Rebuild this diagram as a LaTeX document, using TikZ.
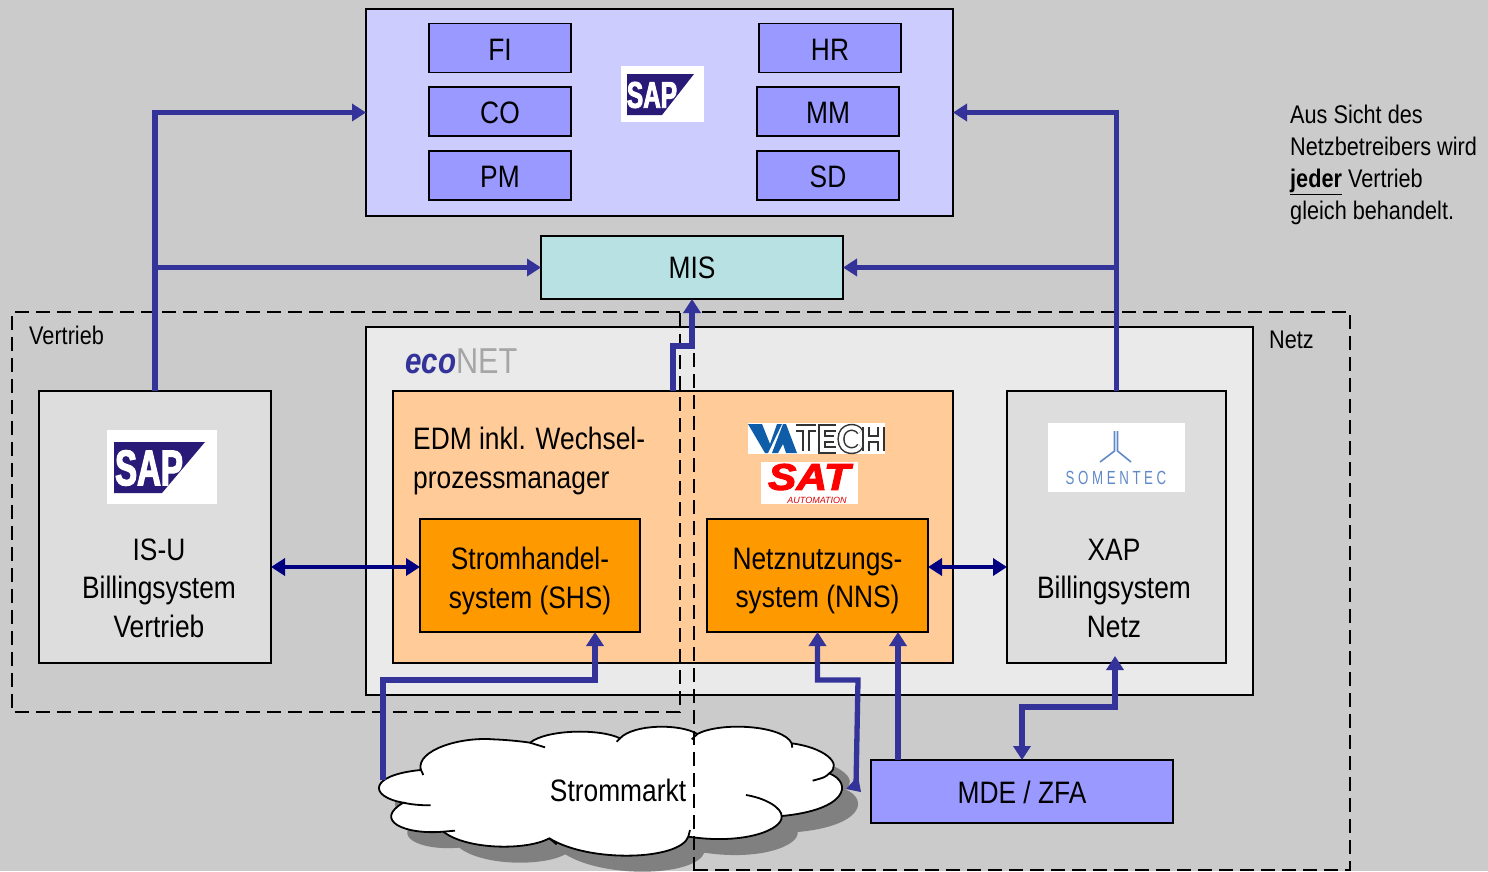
\documentclass[tikz,border=0pt]{standalone}
\usepackage{fontspec}
\usetikzlibrary{arrows.meta,calc}
\setmainfont[FakeStretch=0.85]{Liberation Sans}
\newfontfamily\sapfont[FakeStretch=0.66,BoldFeatures={FakeBold=2.5}]{Liberation Sans}
\newfontfamily\satfont[FakeStretch=1.15,BoldItalicFeatures={FakeBold=3}]{Liberation Sans}
\newfontfamily\autofont{Liberation Sans}
\newfontfamily\somfont[LetterSpace=19,FakeStretch=0.7]{Liberation Sans}
\newfontfamily\ecofont[FakeStretch=0.82]{Liberation Sans}
\definecolor{bgc}{HTML}{CBCBCB}
\definecolor{topc}{HTML}{CCCCFF}
\definecolor{modc}{HTML}{9999FF}
\definecolor{misc}{HTML}{B8E1E4}
\definecolor{ecoc}{HTML}{EAEAEA}
\definecolor{grayc}{HTML}{DDDDDD}
\definecolor{lorange}{HTML}{FFCC99}
\definecolor{dorange}{HTML}{FF9900}
\definecolor{arrc}{HTML}{333399}
\definecolor{navyc}{HTML}{000080}
\definecolor{sapc}{HTML}{2A1A78}
\definecolor{vablue}{HTML}{0F5CA8}
\definecolor{somc}{HTML}{5F8AC6}
\definecolor{shadc}{HTML}{808080}
\newcommand{\bigfs}{\fontsize{31}{38.5}\selectfont}
\newcommand{\smallfs}{\fontsize{25.5}{32}\selectfont}
\tikzset{
  box/.style={draw=black,line width=1.3pt,inner sep=0pt,outer sep=0pt,align=center,font=\bigfs},
  lowtext/.style={text height=25pt,text depth=0.8pt},
  modbox/.style={box,lowtext,fill=modc,minimum width=142pt,minimum height=49pt},
  bigtext/.style={inner sep=0pt,font=\bigfs,align=center},
  smalltext/.style={inner sep=0pt,font=\smallfs,align=left},
  flow/.style={draw=arrc,line width=5.3pt,-{Triangle[length=14pt,width=17pt]}},
  flowtwo/.style={draw=navyc,line width=4.4pt,{Triangle[length=14pt,width=17pt]}-{Triangle[length=14pt,width=17pt]}},
  flowblue/.style={draw=arrc,line width=5.3pt,{Triangle[length=14pt,width=17pt]}-{Triangle[length=14pt,width=17pt]}},
  area/.style={draw=black,line width=1.8pt,dash pattern=on 14pt off 7pt},
  techstroke/.style={draw=black!80,line width=1.5pt,double=white,double distance=4.2pt},
  logo/.style={fill=white,draw=none}
}
\begin{document}
\begin{tikzpicture}[x=1pt,y=-1pt]
\useasboundingbox (0,0) rectangle (1488,871);
\fill[bgc] (0,0) rectangle (1488,871);

% main boxes
\node[box,fill=topc,minimum width=587pt,minimum height=207pt] (top) at (659.5,112.5) {};
\node[modbox] (fi) at (500,48) {FI};
\node[modbox] (co) at (500,111.5) {CO};
\node[modbox] (pm) at (500,175.5) {PM};
\node[modbox] (hr) at (830,48) {HR};
\node[modbox] (mm) at (828,111.5) {MM};
\node[modbox] (sd) at (828,175.5) {SD};
\node[box,fill=misc,minimum width=302pt,minimum height=63pt] (mis) at (692,267.5) {MIS};
\node[box,fill=ecoc,minimum width=887pt,minimum height=368pt] (eco) at (809.5,511) {};
\node[box,fill=grayc,minimum width=232pt,minimum height=272pt] (isu) at (155,527) {};
\node[box,fill=grayc,minimum width=219pt,minimum height=272pt] (xap) at (1116.5,527) {};
\node[box,fill=lorange,minimum width=560pt,minimum height=272pt] (edm) at (673,527) {};
\node[box,fill=dorange,minimum width=220pt,minimum height=113pt] (shs) at (530,575.5) {};
\node[box,fill=dorange,minimum width=221pt,minimum height=113pt] (nns) at (817.5,575.5) {};
\node[box,lowtext,fill=modc,minimum width=302pt,minimum height=63pt] (mde) at (1022,791.5) {MDE / ZFA};

% labels
\node[bigtext] (shslabel) at (530,581) {Stromhandel-\\system (SHS)};
\node[bigtext] (nnslabel) at (817.5,581) {Netznutzungs-\\system (NNS)};
\node[bigtext] (isulabel) at (159,588) {IS-U\\Billingsystem\\Vertrieb};
\node[bigtext] (xaplabel) at (1114,588) {XAP\\Billingsystem\\Netz};
\node[bigtext,align=left,anchor=west] (edmlabel) at (413,461) {EDM inkl. Wechsel-\\prozessmanager};
\node[smalltext,anchor=west] (vertrieb) at (29,335) {Vertrieb};
\node[smalltext,anchor=west] (netz) at (1269,340) {Netz};
\node[smalltext,anchor=north west] (note) at (1290,105) {Aus Sicht des\\Netzbetreibers wird\\{\bfseries\underline{jeder}} Vertrieb\\gleich behandelt.};
\node[inner sep=0pt,anchor=west,font=\fontsize{36}{40}\selectfont] (econet) at (405,361) {{\ecofont\bfseries\itshape\color{arrc}eco}{\color{black!35}NET}};

% SAP logo, top
\fill[logo] (621,66) rectangle (704,122);
\fill[sapc] (627,74) -- (694,74) -- (662,115) -- (627,115) -- cycle;
\node[inner sep=0pt,text=white,font=\sapfont\bfseries\fontsize{37}{37}\selectfont] (saptop) at (652,95) {SAP};
% SAP logo, IS-U
\fill[logo] (107,430) rectangle (217,504);
\fill[sapc] (114,442) -- (205,442) -- (162,493) -- (114,493) -- cycle;
\node[inner sep=0pt,text=white,font=\sapfont\bfseries\fontsize{50}{50}\selectfont] (sapisu) at (149,468) {SAP};

% VA TECH logo
\fill[logo] (748,423) rectangle (885,454);
\fill[vablue] (748,424) -- (762,424) -- (770,444) -- (777,424) -- (782,424) -- (768,453) -- (765,453) -- cycle;
\fill[vablue] (772,453) -- (783,424) -- (786,424) -- (797,453) -- (786,453) -- (783,444) -- (778,453) -- cycle;
\draw[techstroke] (796,428) -- (816,428) (806,428) -- (806,451);
\draw[techstroke] (836,428) -- (822,428) -- (822,450) -- (836,450) (822,439) -- (834,439);
\draw[techstroke] (860,432) .. controls (857,425) and (841,425) .. (841,439) .. controls (841,453) and (857,453) .. (860,446);
\draw[techstroke] (866,427) -- (866,451) (881,427) -- (881,451) (866,439) -- (881,439);

% SAT logo
\fill[logo] (761,462) rectangle (858,504);
\node[inner sep=0pt,text=red,font=\satfont\bfseries\itshape\fontsize{37}{37}\selectfont] (sat) at (809,477) {SAT};
\node[inner sep=0pt,text=red!85!black,font=\autofont\itshape\fontsize{9}{9}\selectfont] (auto) at (817,500) {AUTOMATION};

% Somentec logo
\fill[logo] (1048,423) rectangle (1185,492);
\draw[somc,line width=1.6pt] (1114.5,431) -- (1114.5,451) -- (1100,462);
\draw[somc,line width=1.6pt] (1117.5,431) -- (1117.5,451) -- (1131,462);
\node[inner sep=0pt,text=somc,font=\somfont\fontsize{19}{19}\selectfont] (somentec) at (1116,478) {SOMENTEC};

% cloud
\begin{scope}[shift={(360,660)},x=0.33333pt,y=-0.33333pt]
\def\cloudpath{(182,328) .. controls (170,270) and (300,230) .. (400,238) .. controls (450,240) and (490,245) .. (510,248)
 .. controls (560,208) and (720,205) .. (780,235)
 .. controls (820,192) and (960,190) .. (1012,222)
 .. controls (1080,185) and (1270,195) .. (1295,250)
 .. controls (1390,262) and (1450,310) .. (1408,340)
 .. controls (1480,370) and (1460,450) .. (1265,468)
 .. controls (1270,510) and (1150,555) .. (985,530)
 .. controls (960,600) and (690,610) .. (568,535)
 .. controls (500,572) and (320,570) .. (250,515)
 .. controls (130,525) and (40,480) .. (130,428)
 .. controls (25,410) and (25,345) .. (182,330) -- cycle}
\fill[shadc,shift={(48,48)}] \cloudpath;
\draw[fill=white,draw=black,line width=1.8pt] \cloudpath;
\draw[black,line width=1.8pt] (190,345) -- (182,328)
 (510,248) -- (555,262)
 (770,245) -- (780,235)
 (995,238) -- (1012,222)
 (1297,263) -- (1295,250)
 (1358,362) .. controls (1395,352) .. (1408,340)
 (1158,405) .. controls (1220,415) and (1265,445) .. (1265,468)
 (990,510) -- (985,530)
 (568,535) -- (590,553)
 (285,512) -- (250,515)
 (130,428) .. controls (155,434) and (185,436) .. (212,436);
\end{scope}
\node[bigtext] (markt) at (618,790) {Strommarkt};

% dashed areas
\draw[area] (680,312) -- (12,312) -- (12,712) -- (680,712) -- cycle;
\draw[area] (694,871) -- (694,312) -- (1350,312) -- (1350,870) -- (694,870);

% named free ends
\coordinate (rowa) at (0,567);
\coordinate (cloudA) at (383,780);
\coordinate (bendA) at (595,680);
\coordinate (cloudB) at (856,786);
\coordinate (bendB) at (858,680);
\coordinate (mdeA) at (898,760);
\coordinate (bendC) at (0,707);

% connectors
\draw[flow] (isu.north) |- (top.west);
\draw[flow] (isu.north |- mis.west) -- (mis.west);
\draw[flow] (xap.north) |- (top.east);
\draw[flow] (xap.north |- mis.east) -- (mis.east);
\draw[flow] (edm.north) -- ++(0,-45) -| (mis.south);
\draw[flowtwo] (isu.east |- rowa) -- (shs.west |- rowa);
\draw[flowtwo] (nns.east |- rowa) -- (xap.west |- rowa);
\draw[flow] (cloudA) |- (bendA) -- (bendA |- shs.south);
\draw[flow] (cloudB) -- (bendB) -- (nns.south |- bendB) -- (nns.south);
\fill[arrc] (846,789) -- (861,792) -- (858,776) -- cycle;
\draw[flow] (mdeA) -- (mdeA |- nns.south);
\draw[flowblue] (mde.north) -- (mde.north |- bendC) -| (1115,656);
\end{tikzpicture}
\end{document}
